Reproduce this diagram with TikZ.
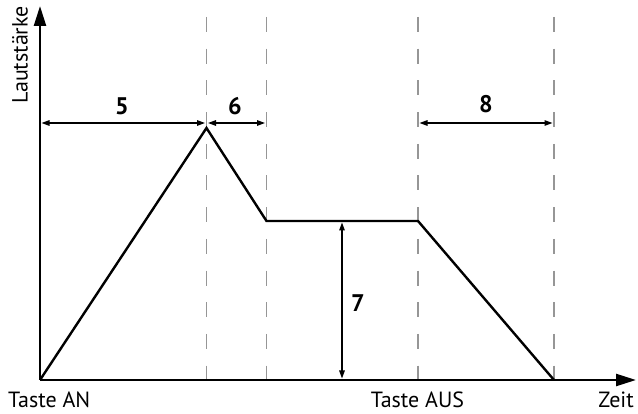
\documentclass[tikz,border=0pt]{standalone}
\usepackage{fontspec}
\setmainfont{PT Sans}
\usetikzlibrary{arrows.meta}
\definecolor{dashgrey}{RGB}{150,150,150}
\tikzset{
  axis/.style={line width=2.4pt,-{Triangle[length=20pt,width=12pt]}},
  envelope/.style={line width=2.4pt,line join=miter},
  guide/.style={dashgrey,line width=1.6pt,dash pattern=on 15pt off 16.7pt},
  dim/.style={line width=1.3pt,{Triangle[length=8pt,width=5.5pt]}-{Triangle[length=8pt,width=5.5pt]}},
  lbl/.style={font=\fontsize{22}{24}\selectfont,inner sep=0pt},
  num/.style={font=\fontsize{24}{26}\selectfont\bfseries,inner sep=0pt}
}
\begin{document}
\begin{tikzpicture}[x=1pt,y=-1pt]
\useasboundingbox (0,0) rectangle (638,414);
% coordinates
\coordinate (O) at (40,380);
\coordinate (ytop) at (40,6);
\coordinate (xend) at (636,380);
\coordinate (peak) at (206.5,128);
\coordinate (sus1) at (266.5,221);
\coordinate (sus2) at (418,221);
\coordinate (rel) at (554,380);
% dashed guides
\coordinate (g1t) at (206.5,17); \coordinate (g1b) at (206.5,380);
\coordinate (g2t) at (266.5,17); \coordinate (g2b) at (266.5,380);
\coordinate (g3t) at (418,17);   \coordinate (g3b) at (418,380);
\coordinate (g4t) at (554,17);   \coordinate (g4b) at (554,380);
\draw[guide] (g1t) -- (g1b);
\draw[guide] (g2t) -- (g2b);
\draw[guide] (g3t) -- (g3b);
\draw[guide] (g4t) -- (g4b);
% axes
\draw[axis] (O) -- (ytop);
\draw[axis] (O) -- (xend);
% envelope
\draw[envelope] (O) -- (peak) -- (sus1) -- (sus2) -- (rel);
% dimension arrows
\coordinate (d5a) at (41.5,123); \coordinate (d5b) at (205,123);
\coordinate (d6a) at (208,123); \coordinate (d6b) at (265,123);
\coordinate (d8a) at (419.5,123); \coordinate (d8b) at (552.5,123);
\coordinate (d7a) at (342,222.5); \coordinate (d7b) at (342,378.5);
\draw[dim] (d5a) -- (d5b);
\draw[dim] (d6a) -- (d6b);
\draw[dim] (d8a) -- (d8b);
\draw[dim] (d7a) -- (d7b);
% labels
\node[num] (n5) at (122,106) {5};
\node[num] (n6) at (235,106) {6};
\node[num] (n8) at (486,104) {8};
\node[num] (n7) at (358,303) {7};
\node[lbl,rotate=90] (yl) at (20,55) {Lautstärke};
\node[lbl,anchor=base west] (tan) at (8,407) {Taste AN};
\node[lbl,anchor=base] (taus) at (417.5,407) {Taste AUS};
\node[lbl,anchor=base east] (zeit) at (634,407) {Zeit};
\end{tikzpicture}
\end{document}
